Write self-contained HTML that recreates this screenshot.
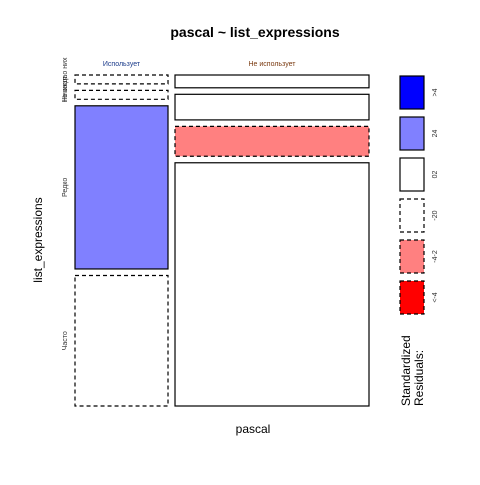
<!DOCTYPE html>
<html><head><meta charset="utf-8">
<style>
body{margin:0;background:#fff;}
svg text{font-family:"Liberation Sans","Noto Sans CJK SC",sans-serif;}
</style></head>
<body>
<svg id="chart" width="480" height="480" xmlns="http://www.w3.org/2000/svg">
<rect width="480" height="480" fill="#fff"/>
<text x="255" y="37" font-size="14" font-weight="bold" text-anchor="middle">pascal ~ list_expressions</text>
<text x="253" y="433" font-size="12" text-anchor="middle">pascal</text>
<text transform="translate(42,240) rotate(-90)" font-size="12" text-anchor="middle">list_expressions</text>
<g id="cells"></g>
<g id="legend"></g>
<text transform="translate(410,406) rotate(-90)" font-size="12"><tspan x="0" dy="0">Standardized</tspan><tspan x="0" dy="13">Residuals:</tspan></text>
</svg>
<script>
const columns = ["Использует", "Не использует"];
const rows = ["Не знал о них", "Никогда", "Редко", "Часто"];
const countsUses = [3, 3, 55, 44];
const countsNotUses = [9, 18, 21, 171];
const residualUses = ["-20", "-20", "24", "-20"];
const residualNotUses = ["02", "02", "-4-2", "02"];
const legendLabels = [">4", "24", "02", "-20", "-4-2", "<-4"];

const NS = "http://www.w3.org/2000/svg";
const styles = {
  ">4": {fill: "#0000ff", dash: null},
  "24": {fill: "#8080ff", dash: null},
  "02": {fill: "#ffffff", dash: null},
  "-20": {fill: "#ffffff", dash: "4,3"},
  "-4-2": {fill: "#ff8080", dash: "4,3"},
  "<-4": {fill: "#ff0000", dash: "4,3"}
};
const X0 = 75, X1 = 369, Y0 = 75, Y1 = 406, GX = 7, GY = 6.5;
const cols = [countsUses, countsNotUses];
const res = [residualUses, residualNotUses];
const sum = a => a.reduce((s, v) => s + v, 0);
const total = sum(countsUses) + sum(countsNotUses);
const availW = (X1 - X0) - GX * (cols.length - 1);
const cells = document.getElementById("cells");
let x = X0;
cols.forEach((c, ci) => {
  const w = availW * sum(c) / total;
  const t = document.createElementNS(NS, "text");
  t.setAttribute("x", x + w / 2); t.setAttribute("y", 66);
  t.setAttribute("font-size", "7"); t.setAttribute("text-anchor", "middle");
  t.setAttribute("fill", ci === 0 ? "#1a3a8a" : "#7a3a10");
  t.textContent = columns[ci];
  
  
  cells.appendChild(t);
  const availH = (Y1 - Y0) - GY * (rows.length - 1);
  let y = Y0;
  c.forEach((v, ri) => {
    const h = availH * v / sum(c);
    const st = styles[res[ci][ri]];
    const r = document.createElementNS(NS, "rect");
    r.setAttribute("x", x); r.setAttribute("y", y);
    r.setAttribute("width", w); r.setAttribute("height", h);
    r.setAttribute("fill", st.fill); r.setAttribute("stroke", "#000");
    r.setAttribute("stroke-width", "1.2");
    if (st.dash) r.setAttribute("stroke-dasharray", st.dash);
    
    
    cells.appendChild(r);
    if (ci === 0) {
      const lt = document.createElementNS(NS, "text");
      const cy = ri === 0 ? 80 : (ri === 1 ? 88 : y + h / 2);
      lt.setAttribute("transform", "translate(67," + cy + ") rotate(-90)");
      lt.setAttribute("font-size", "7"); lt.setAttribute("text-anchor", "middle");
      lt.setAttribute("fill", "#333");
      lt.textContent = rows[ri];
      
      
      cells.appendChild(lt);
    }
    y += h + GY;
  });
  x += w + GX;
});
const legend = document.getElementById("legend");
legendLabels.forEach((lab, i) => {
  const st = styles[lab];
  const y = 76 + i * 41;
  const r = document.createElementNS(NS, "rect");
  r.setAttribute("x", 400); r.setAttribute("y", y);
  r.setAttribute("width", 24); r.setAttribute("height", 33);
  r.setAttribute("fill", st.fill); r.setAttribute("stroke", "#000");
  r.setAttribute("stroke-width", "1.2");
  if (st.dash) r.setAttribute("stroke-dasharray", st.dash);
  
  
  legend.appendChild(r);
  const t = document.createElementNS(NS, "text");
  t.setAttribute("transform", "translate(437," + (y + 16.5) + ") rotate(-90)");
  t.setAttribute("font-size", "7"); t.setAttribute("text-anchor", "middle");
  t.setAttribute("fill", "#333");
  t.textContent = lab;
  
  
  legend.appendChild(t);
});
</script>
</body></html>
